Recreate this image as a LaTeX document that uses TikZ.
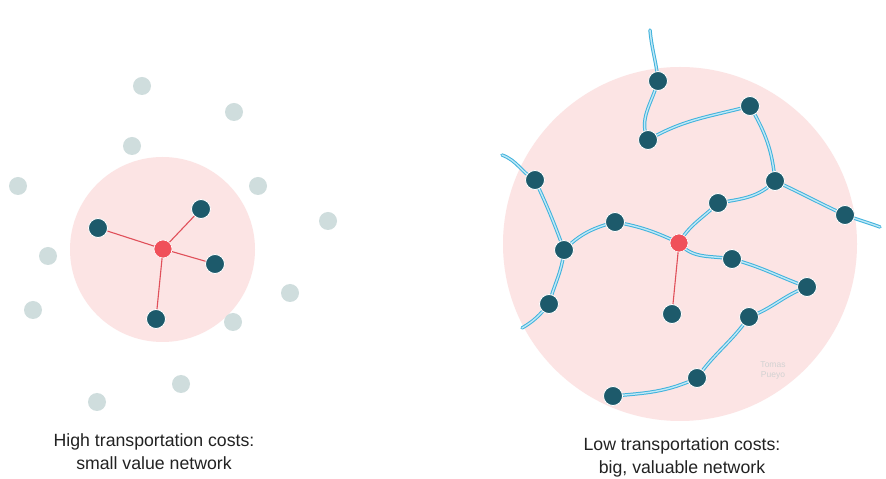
\documentclass[tikz,border=0pt]{standalone}
\usepackage{fontspec}
\setmainfont{Liberation Sans}
\definecolor{pinkbg}{HTML}{FCE4E4}
\definecolor{darknode}{HTML}{1D5A6B}
\definecolor{rednode}{HTML}{F0505A}
\definecolor{greynode}{HTML}{CFDDDD}
\definecolor{roadblue}{HTML}{3FB2DC}
\definecolor{roadlight}{HTML}{BFE8F6}
\definecolor{redline}{HTML}{E0505A}
\definecolor{textgrey}{HTML}{222222}
\begin{document}
\begin{tikzpicture}[x=1pt,y=1pt,
  dark/.style={circle,fill=darknode,draw=white,line width=0.8pt,minimum size=19pt,inner sep=0pt},
  hub/.style={circle,fill=rednode,draw=white,line width=0.6pt,minimum size=18pt,inner sep=0pt},
  grey/.style={circle,fill=greynode,minimum size=18pt,inner sep=0pt},
  road/.style={draw=roadblue,line width=1pt,double=roadlight,double distance=1.4pt,line cap=round},
  redlink/.style={draw=redline,line width=1.1pt},
  caption/.style={font=\fontsize{17.7}{23}\selectfont,text=textgrey,align=center}]
\useasboundingbox (0,0) rectangle (886,479);
\fill[white] (0,0) rectangle (886,479);
% ---------- left network ----------
\fill[pinkbg] (162.5,229.5) circle (92.5);
\node[grey] (g1) at (142,393) {};
\node[grey] (g2) at (234,367) {};
\node[grey] (g3) at (132,333) {};
\node[grey] (g4) at (18,293) {};
\node[grey] (g5) at (258,293) {};
\node[grey] (g6) at (328,258) {};
\node[grey] (g7) at (48,223) {};
\node[grey] (g8) at (33,169) {};
\node[grey] (g9) at (290,186) {};
\node[grey] (g10) at (233,157) {};
\node[grey] (g11) at (181,95) {};
\node[grey] (g12) at (97,77) {};
\coordinate (lr) at (163,230);
\node[dark] (l1) at (98,251) {};
\node[dark] (l2) at (201,270) {};
\node[dark] (l3) at (215,215) {};
\node[dark] (l4) at (156,160) {};
\draw[redlink] (lr) -- (l1) (lr) -- (l2) (lr) -- (l3) (lr) -- (l4);
\node[hub] (lh) at (lr) {};
% ---------- right network ----------
\fill[pinkbg] (680,235) circle (177);
\coordinate (R) at (679,236);
\coordinate (A) at (658,398);
\coordinate (B) at (750,373);
\coordinate (C) at (648,339);
\coordinate (D) at (535,299);
\coordinate (E) at (775,298);
\coordinate (F) at (718,276);
\coordinate (G) at (845,264);
\coordinate (H) at (615,257);
\coordinate (I) at (564,229);
\coordinate (J) at (732,220);
\coordinate (K) at (807,192);
\coordinate (L) at (549,175);
\coordinate (M) at (672,165);
\coordinate (N) at (749,162);
\coordinate (O) at (697,101);
\coordinate (P) at (613,83);
\coordinate (t1) at (650,449);
\coordinate (t2) at (880,252);
\coordinate (t3) at (502,324);
\coordinate (t4) at (522,151);
\draw[road] (t1) to[out=-85,in=95] (A) to[out=-105,in=115] (C) to[out=30,in=195] (B)
  to[out=-60,in=95] (E) to[out=-25,in=155] (G) to[out=-20,in=160] (t2);
\draw[road] (R) to[out=60,in=-135] (F) to[out=10,in=-135] (E);
\draw[road] (t3) to[out=-20,in=150] (D) to[out=-65,in=110] (I) to[out=-95,in=75] (L) to[out=-130,in=30] (t4);
\draw[road] (I) to[out=45,in=195] (H) to[out=-10,in=155] (R);
\draw[road] (R) to[out=-50,in=170] (J) to[out=-15,in=160] (K) to[out=-160,in=20] (N)
  to[out=-125,in=55] (O) to[out=-155,in=5] (P);
\draw[redlink] (R) -- (M);
\foreach \n in {A,B,C,D,E,F,G,H,I,J,K,L,M,N,O,P} \node[dark] (n\n) at (\n) {};
\node[hub] (rh) at (R) {};
\node[font=\fontsize{8.5}{10}\selectfont,text=gray!35,align=center] (wm) at (773,109) {Tomas\\Pueyo};
% ---------- captions ----------
\node[caption] (cap1) at (154,27) {High transportation costs:\\small value network};
\node[caption] (cap2) at (682,22) {Low transportation costs:\\big, valuable network};
\end{tikzpicture}
\end{document}
